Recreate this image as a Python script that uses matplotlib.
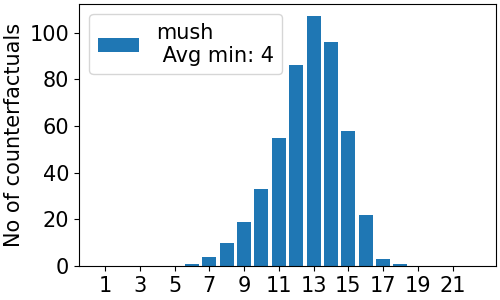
import numpy as np
import matplotlib
matplotlib.use("Agg")
import matplotlib.pyplot as plt

# number of counterfactuals per length (0..23)
lengths = np.arange(0, 24)
counts = [0, 0, 0, 0, 0, 0, 1, 4, 10, 19, 33, 55, 86, 107, 96, 58, 22, 3, 1, 0, 0, 0, 0, 0]
label = "mush\n Avg min: 4"
xticks = list(range(1, 22, 2))

plt.rcParams['font.size'] = 15
fig, ax = plt.subplots(figsize=(5, 3), dpi=100)
ax.bar(lengths, counts, label=label)
ax.set_xticks(xticks)
ax.set_xlim(-0.5, 23.5)
ax.set_ylabel("No of counterfactuals")
ax.legend(loc="upper left")
fig.subplots_adjust(left=0.158, right=0.992, top=0.987, bottom=0.113)
fig.savefig("out.png")
